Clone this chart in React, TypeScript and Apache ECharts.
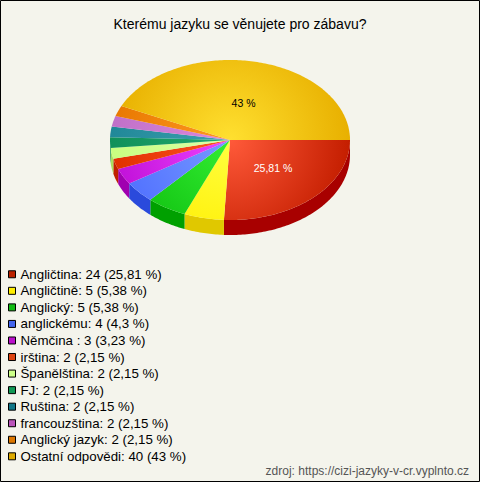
import React, { useEffect, useRef } from "react";
import * as echarts from "echarts";

const categories = [
  "Angličtina",
  "Angličtině",
  "Anglický",
  "anglickému",
  "Němčina ",
  "irština",
  "Španělština",
  "FJ",
  "Ruština",
  "francouzština",
  "Anglický jazyk",
  "Ostatní odpovědi",
];
const counts = [24, 5, 5, 4, 3, 2, 2, 2, 2, 2, 2, 40];
const percents = ["25,81", "5,38", "5,38", "4,3", "3,23", "2,15", "2,15", "2,15", "2,15", "2,15", "2,15", "43"];
const titleText = "Kterému jazyku se věnujete pro zábavu?";
const sourceText = "zdroj: https://cizi-jazyky-v-cr.vyplnto.cz";

const topColors = ["#c41e00", "#ffee00", "#10c010", "#4f6fff", "#c010d8", "#e03000", "#c8ff80", "#10905a", "#208898", "#c070c8", "#e87800", "#e8b000"];
const lightColors = ["#ff5a3a", "#ffff40", "#33ee33", "#7799ff", "#ee44ff", "#ff5522", "#ddffaa", "#22aa70", "#40a0b0", "#dd88dd", "#ff9922", "#ffe030"];
const sideColors = ["#a80000", "#e0c800", "#00a000", "#2a4adc", "#a000b0", "#c02000", "#a8e060", "#008050", "#107080", "#a050a8", "#c86000", "#c89000"];
const legendColors = ["#bb2200", "#ffee00", "#11bb11", "#4466ee", "#bb11cc", "#dd4411", "#ccff88", "#119955", "#117788", "#bb55bb", "#dd7700", "#ddaa00"];
const labelColors = ["#ffffff", "#000", "#000", "#000", "#000", "#000", "#000", "#000", "#000", "#000", "#000", "#000"];

const FONT = "'Liberation Sans', Arial, sans-serif";
const CX = 230;
const CY = 140;
const RX = 120;
const RY = 80;
const DEPTH = 15;

const total = counts.reduce((a, b) => a + b, 0);

export default function App() {
  const ref = useRef<HTMLDivElement>(null);
  useEffect(() => {
    document.body.style.margin = "0";
    const chart = echarts.init(ref.current!, null, { renderer: "svg" });
    const pt = (deg: number, dy = 0) => [
      CX + RX * Math.cos((deg * Math.PI) / 180),
      CY + RY * Math.sin((deg * Math.PI) / 180) + dy,
    ];
    const arc = (s: number, e: number, dy: number) => {
      const pts: number[][] = [];
      const n = Math.max(2, Math.ceil(e - s));
      for (let j = 0; j <= n; j++) pts.push(pt(s + ((e - s) * j) / n, dy));
      return pts;
    };
    chart.setOption({
      animation: false,
      backgroundColor: "#f4f4ec",
      title: {
        text: titleText,
        left: "center",
        top: 12,
        textStyle: { fontFamily: FONT, fontSize: 14, fontWeight: "normal", color: "#000" },
      },
      legend: {
        data: categories,
        orient: "vertical",
        left: 8,
        top: 266,
        padding: 0,
        itemGap: 0,
        itemWidth: 7,
        itemHeight: 7,
        icon: "rect",
        selectedMode: false,
        itemStyle: { borderColor: "#000", borderWidth: 1 },
        textStyle: { fontFamily: FONT, fontSize: 13.3, color: "#000", lineHeight: 16.55 },
        formatter: (name: string) => {
          const i = categories.indexOf(name);
          return `${name}: ${counts[i]} (${percents[i]} %)`;
        },
      },
      graphic: [
        {
          type: "text",
          x: 469,
          y: 471,
          style: { text: sourceText, font: `12px ${FONT}`, fill: "#555", align: "right", verticalAlign: "middle" },
        },
        {
          type: "rect",
          z: 100,
          shape: { x: 0.5, y: 0.5, width: 479, height: 481 },
          style: { fill: "none", stroke: "#000", lineWidth: 1 },
        },
      ],
      series: [
        {
          type: "pie",
          center: [-500, -500],
          radius: 1,
          silent: true,
          label: { show: false },
          data: categories.map((c, i) => ({ name: c, value: counts[i], itemStyle: { color: legendColors[i] } })),
        },
        {
          type: "custom",
          name: "pie3d",
          coordinateSystem: "none",
          silent: true,
          data: counts.map((v, i) => ({ name: categories[i], value: [v] })),
          renderItem: (params: any, api: any) => {
            const i = params.dataIndex;
            const v = api.value(0) as number;
            let before = 0;
            for (let k = 0; k < i; k++) before += counts[k];
            const a0 = (before / total) * 360;
            const a1 = ((before + v) / total) * 360;
            const children: any[] = [];
            const lo = Math.max(a0, 0);
            const hi = Math.min(a1, 180);
            if (hi > lo) {
              const top = arc(lo, hi, 0);
              const bottom = arc(lo, hi, DEPTH).reverse();
              children.push({
                type: "polygon",
                shape: { points: top.concat(bottom) },
                style: { fill: sideColors[i] },
              });
            }
            children.push({
              type: "polygon",
              shape: { points: [[CX, CY], ...arc(a0, a1, 0)] },
              style: {
                fill: new echarts.graphic.RadialGradient(
                  CX,
                  CY,
                  RX,
                  [
                    { offset: 0, color: lightColors[i] },
                    { offset: 1, color: topColors[i] },
                  ],
                  true
                ),
              },
            });
            if (v / total >= 0.1) {
              const mid = (a0 + a1) / 2;
              const x = CX + 0.52 * RX * Math.cos((mid * Math.PI) / 180);
              const y = CY + 0.48 * RY * Math.sin((mid * Math.PI) / 180);
              children.push({
                type: "text",
                x,
                y,
                style: {
                  text: `${percents[i]} %`,
                  font: `10.5px ${FONT}`,
                  fill: labelColors[i],
                  align: "center",
                  verticalAlign: "middle",
                },
              });
            }
            return { type: "group", children };
          },
        },
      ],
    });
    return () => chart.dispose();
  }, []);
  return <div ref={ref} style={{ width: 480, height: 482 }} />;
}
